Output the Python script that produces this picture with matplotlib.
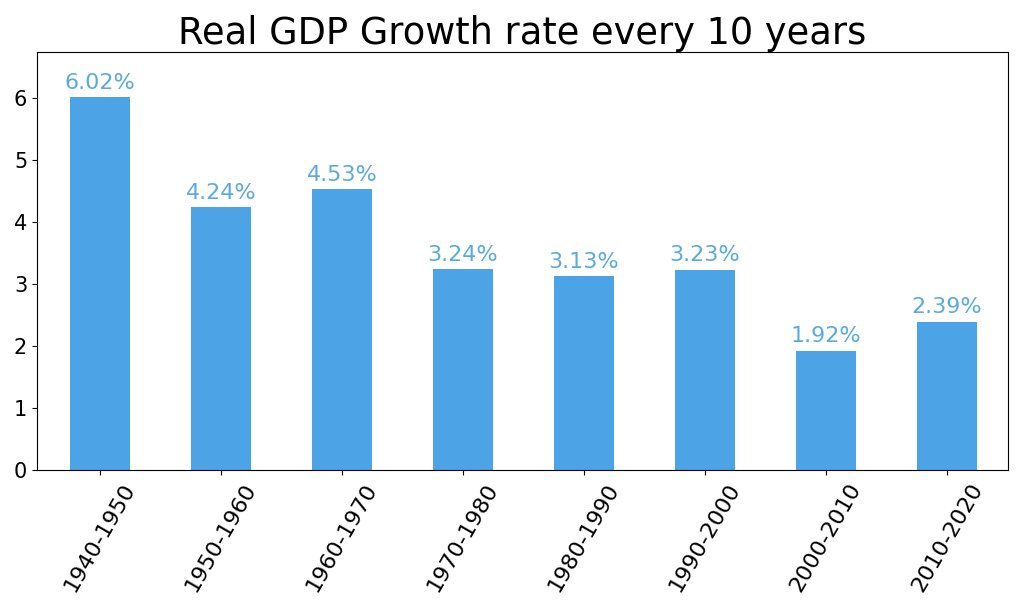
import matplotlib.pyplot as plt
import numpy as np

decades = ['1940-1950', '1950-1960', '1960-1970', '1970-1980',
           '1980-1990', '1990-2000', '2000-2010', '2010-2020']
growth = [6.02, 4.24, 4.53, 3.24, 3.13, 3.23, 1.92, 2.39]

fig = plt.figure(figsize=(10.24, 6.14), dpi=100)
ax = fig.add_axes([0.036, 0.235, 0.948, 0.68])

x = np.arange(len(decades))
bars = ax.bar(x, growth, width=0.5, color='#4ca3e6')
for xi, v in zip(x, growth):
    ax.text(xi, v + 0.07, f'{v:.2f}%', ha='center', va='bottom',
            fontsize=16, color='#5aaae0')

ax.set_xticks(x)
ax.set_xticklabels(decades, rotation=60, fontsize=16)
ax.tick_params(axis='y', labelsize=15)
ax.set_xlim(-0.52, 7.5)
ax.set_ylim(0, max(growth) * 1.12)
ax.set_title('Real GDP Growth rate every 10 years', fontsize=26.5)

fig.savefig('out.png', dpi=100)
